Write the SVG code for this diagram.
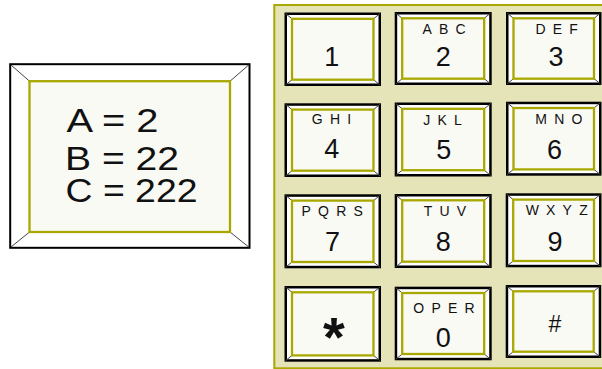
<svg xmlns="http://www.w3.org/2000/svg" width="602" height="369" viewBox="0 0 602 369">
<style>
.ko{fill:#ffffff;stroke:#000000;stroke-width:2.5}
.ki{fill:#FAFAF5;stroke:#A8A800;stroke-width:2.3}
.bv{stroke:#444444;stroke-width:1}
text{font-family:"Liberation Sans",Arial,Helvetica,sans-serif;fill:#111111}
.dg{font-size:27px;text-anchor:middle}
.lt{font-size:14px;letter-spacing:7.2px;text-anchor:middle}
.big{font-size:34px}
</style>
<rect width="602" height="369" fill="#ffffff"/>
<g id="legend">
  <rect x="10.2" y="64.2" width="239.3" height="183.6" fill="#ffffff" stroke="#000000" stroke-width="2"/>
  <line class="bv" x1="11" y1="65" x2="29.5" y2="81.2"/>
  <line class="bv" x1="248.7" y1="65" x2="230" y2="81.2"/>
  <line class="bv" x1="11" y1="247" x2="29.5" y2="232"/>
  <line class="bv" x1="248.7" y1="247" x2="230" y2="232"/>
  <rect x="29.5" y="81.2" width="200.5" height="150.8" fill="#FAFAF5" stroke="#A8A800" stroke-width="2.3"/>
  <text class="big" x="66.5" y="131.5" textLength="92" lengthAdjust="spacingAndGlyphs">A = 2</text>
  <text class="big" x="65" y="169.5" textLength="114" lengthAdjust="spacingAndGlyphs">B = 22</text>
  <text class="big" x="65.5" y="201.7" textLength="132" lengthAdjust="spacingAndGlyphs">C = 222</text>
</g>
<g id="keypad">
  <rect x="274.3" y="5" width="340" height="363.3" fill="#E5E4B8" stroke="#A8A800" stroke-width="2"/>
</g>
<g id="key1" transform="translate(284.5,12.5)">
  <rect class="ko" x="1.25" y="1.25" width="94" height="71"/>
  <line class="bv" x1="1" y1="1" x2="7.5" y2="6.3"/><line class="bv" x1="95.5" y1="1" x2="89" y2="6.3"/>
  <line class="bv" x1="1" y1="72.5" x2="7.5" y2="67.2"/><line class="bv" x1="95.5" y1="72.5" x2="89" y2="67.2"/>
  <rect class="ki" x="7.5" y="6.3" width="81.5" height="60.9"/>
  <text class="dg" x="47.2" y="53">1</text>
</g>
<g id="key2" transform="translate(394.7,12)">
  <rect class="ko" x="1.25" y="1.25" width="94.5" height="70.5"/>
  <line class="bv" x1="1" y1="1" x2="7.5" y2="6.3"/><line class="bv" x1="96" y1="1" x2="89.5" y2="6.3"/>
  <line class="bv" x1="1" y1="72" x2="7.5" y2="66.7"/><line class="bv" x1="96" y1="72" x2="89.5" y2="66.7"/>
  <rect class="ki" x="7.5" y="6.3" width="82" height="60.4"/>
  <text class="lt" x="52.9" y="21.5">ABC</text>
  <text class="dg" x="48.6" y="53.5">2</text>
</g>
<g id="key3" transform="translate(506,12)">
  <rect class="ko" x="1.25" y="1.25" width="93" height="70.5"/>
  <line class="bv" x1="1" y1="1" x2="7.5" y2="6.3"/><line class="bv" x1="94.5" y1="1" x2="88" y2="6.3"/>
  <line class="bv" x1="1" y1="72" x2="7.5" y2="66.7"/><line class="bv" x1="94.5" y1="72" x2="88" y2="66.7"/>
  <rect class="ki" x="7.5" y="6.3" width="80.5" height="60.4"/>
  <text class="lt" x="54.3" y="22">DEF</text>
  <text class="dg" x="50" y="53.5">3</text>
</g>
<g id="key4" transform="translate(284.5,103.3)">
  <rect class="ko" x="1.25" y="1.25" width="94" height="71.2"/>
  <line class="bv" x1="1" y1="1" x2="7.5" y2="6.3"/><line class="bv" x1="95.5" y1="1" x2="89" y2="6.3"/>
  <line class="bv" x1="1" y1="72.7" x2="7.5" y2="67.4"/><line class="bv" x1="95.5" y1="72.7" x2="89" y2="67.4"/>
  <rect class="ki" x="7.5" y="6.3" width="81.5" height="61.1"/>
  <text class="lt" x="50.6" y="20.7">GHI</text>
  <text class="dg" x="47.2" y="55.2">4</text>
</g>
<g id="key5" transform="translate(394.7,102.5)">
  <rect class="ko" x="1.25" y="1.25" width="94.5" height="71.5"/>
  <line class="bv" x1="1" y1="1" x2="7.5" y2="6.3"/><line class="bv" x1="96" y1="1" x2="89.5" y2="6.3"/>
  <line class="bv" x1="1" y1="73" x2="7.5" y2="67.7"/><line class="bv" x1="96" y1="73" x2="89.5" y2="67.7"/>
  <rect class="ki" x="7.5" y="6.3" width="82" height="61.4"/>
  <text class="lt" x="51.4" y="22">JKL</text>
  <text class="dg" x="49" y="56">5</text>
</g>
<g id="key6" transform="translate(506,101.7)">
  <rect class="ko" x="1.25" y="1.25" width="93" height="71.5"/>
  <line class="bv" x1="1" y1="1" x2="7.5" y2="6.3"/><line class="bv" x1="94.5" y1="1" x2="88" y2="6.3"/>
  <line class="bv" x1="1" y1="73" x2="7.5" y2="67.7"/><line class="bv" x1="94.5" y1="73" x2="88" y2="67.7"/>
  <rect class="ki" x="7.5" y="6.3" width="80.5" height="61.4"/>
  <text class="lt" x="56.4" y="22.8">MNO</text>
  <text class="dg" x="48.5" y="57.3">6</text>
</g>
<g id="key7" transform="translate(284.5,194.3)">
  <rect class="ko" x="1.25" y="1.25" width="94" height="71.5"/>
  <line class="bv" x1="1" y1="1" x2="7.5" y2="6.3"/><line class="bv" x1="95.5" y1="1" x2="89" y2="6.3"/>
  <line class="bv" x1="1" y1="73" x2="7.5" y2="67.7"/><line class="bv" x1="95.5" y1="73" x2="89" y2="67.7"/>
  <rect class="ki" x="7.5" y="6.3" width="81.5" height="61.4"/>
  <text class="lt" x="51.3" y="21.3">PQRS</text>
  <text class="dg" x="48" y="56.4">7</text>
</g>
<g id="key8" transform="translate(394.7,194)">
  <rect class="ko" x="1.25" y="1.25" width="94.5" height="71.5"/>
  <line class="bv" x1="1" y1="1" x2="7.5" y2="6.3"/><line class="bv" x1="96" y1="1" x2="89.5" y2="6.3"/>
  <line class="bv" x1="1" y1="73" x2="7.5" y2="67.7"/><line class="bv" x1="96" y1="73" x2="89.5" y2="67.7"/>
  <rect class="ki" x="7.5" y="6.3" width="82" height="61.4"/>
  <text class="lt" x="53.9" y="21.5">TUV</text>
  <text class="dg" x="48.6" y="56.7">8</text>
</g>
<g id="key9" transform="translate(505.7,193.3)">
  <rect class="ko" x="1.25" y="1.25" width="93.3" height="71.5"/>
  <line class="bv" x1="1" y1="1" x2="7.5" y2="6.3"/><line class="bv" x1="94.8" y1="1" x2="88.3" y2="6.3"/>
  <line class="bv" x1="1" y1="73" x2="7.5" y2="67.7"/><line class="bv" x1="94.8" y1="73" x2="88.3" y2="67.7"/>
  <rect class="ki" x="7.5" y="6.3" width="80.8" height="61.4"/>
  <text class="lt" x="54.6" y="22">WXYZ</text>
  <text class="dg" x="49.3" y="57.4">9</text>
</g>
<g id="keyStar" transform="translate(284.5,286)">
  <rect class="ko" x="1.25" y="1.25" width="94" height="73.2"/>
  <line class="bv" x1="1" y1="1" x2="7.5" y2="6.3"/><line class="bv" x1="95.5" y1="1" x2="89" y2="6.3"/>
  <line class="bv" x1="1" y1="74.7" x2="7.5" y2="69.4"/><line class="bv" x1="95.5" y1="74.7" x2="89" y2="69.4"/>
  <rect class="ki" x="7.5" y="6.3" width="81.5" height="63.1"/>
  <text class="dg" x="49.5" y="69.7" style="font-size:56px;font-weight:bold">*</text>
</g>
<g id="key0" transform="translate(394.7,286.7)">
  <rect class="ko" x="1.25" y="1.25" width="94.5" height="71.1"/>
  <line class="bv" x1="1" y1="1" x2="7.5" y2="6.3"/><line class="bv" x1="96" y1="1" x2="89.5" y2="6.3"/>
  <line class="bv" x1="1" y1="72.6" x2="7.5" y2="67.3"/><line class="bv" x1="96" y1="72.6" x2="89.5" y2="67.3"/>
  <rect class="ki" x="7.5" y="6.3" width="82" height="61"/>
  <text class="lt" x="52.9" y="26.3">OPER</text>
  <text class="dg" x="48.5" y="60.6">0</text>
</g>
<g id="keyHash" transform="translate(505.7,285)">
  <rect class="ko" x="1.25" y="1.25" width="93" height="70.5"/>
  <line class="bv" x1="1" y1="1" x2="7.5" y2="6.3"/><line class="bv" x1="94.5" y1="1" x2="88" y2="6.3"/>
  <line class="bv" x1="1" y1="72" x2="7.5" y2="66.7"/><line class="bv" x1="94.5" y1="72" x2="88" y2="66.7"/>
  <rect class="ki" x="7.5" y="6.3" width="80.5" height="60.4"/>
  <text class="dg" x="49.1" y="47.3" style="font-size:23px">#</text>
</g>
<g id="connectors"/>
</svg>
